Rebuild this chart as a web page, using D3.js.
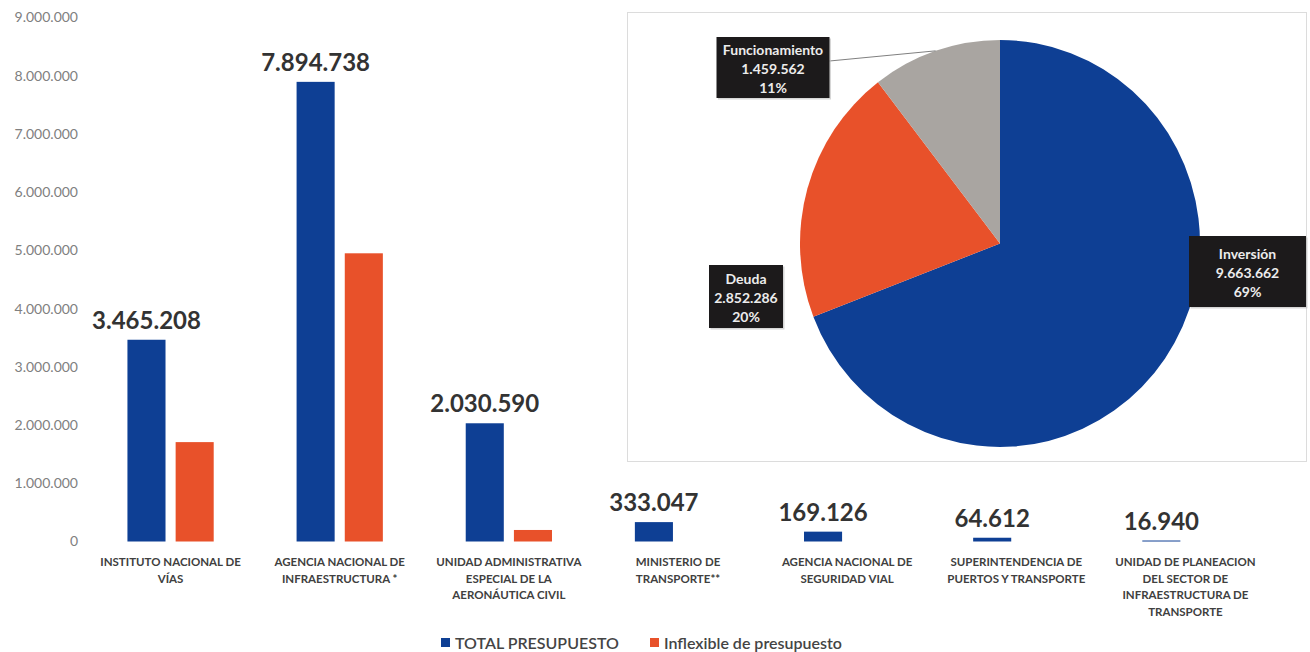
<!DOCTYPE html>
<html>
<head>
<meta charset="utf-8">
<script src="https://cdn.jsdelivr.net/npm/d3@7"></script>
<style>
  body { margin: 0; background: #fff; }
  svg { display: block; font-family: Lato, "Open Sans", sans-serif; }
</style>
</head>
<body>
<div id="chart"></div>
<script>
// bar chart data
const categories = [
  ["INSTITUTO NACIONAL DE", "VÍAS"],
  ["AGENCIA NACIONAL DE", "INFRAESTRUCTURA *"],
  ["UNIDAD ADMINISTRATIVA", "ESPECIAL DE LA", "AERONÁUTICA CIVIL"],
  ["MINISTERIO DE", "TRANSPORTE**"],
  ["AGENCIA NACIONAL DE", "SEGURIDAD VIAL"],
  ["SUPERINTENDENCIA DE", "PUERTOS Y TRANSPORTE"],
  ["UNIDAD DE PLANEACION", "DEL SECTOR DE", "INFRAESTRUCTURA DE", "TRANSPORTE"]
]
const totalPresupuesto = [3465208, 7894738, 2030590, 333047, 169126, 64612, 16940]
const inflexible = [1707000, 4950000, 198000, 0, 0, 0, 0]
const seriesNames = ["TOTAL PRESUPUESTO", "Inflexible de presupuesto"]
const yTicks = [0, 1000000, 2000000, 3000000, 4000000, 5000000, 6000000, 7000000, 8000000, 9000000]

// pie data
const pieNames = ["Inversión", "Deuda", "Funcionamiento"]
const pieValues = [9663662, 2852286, 1459562]
const piePercents = ["69%", "20%", "11%"]

const BLUE = "#0e3f94", ORANGE = "#e8512a", GREY = "#a9a5a1"

const W = 1310, H = 652
const svg = d3.select("#chart").append("svg")
  .attr("width", W).attr("height", H)

const loc = d3.formatLocale({ decimal: ",", thousands: ".", grouping: [3], currency: ["", ""] })
const fmt = loc.format(",d")

// ---- bars
const x0 = d3.scaleBand()
  .domain(d3.range(categories.length))
  .range([86, 1270])
const bw = x0.bandwidth()
const x1 = d3.scaleBand()
  .domain([0, 1])
  .range([bw * 0.245, bw * 0.755])
  .paddingInner(0.21)
const y = d3.scaleLinear()
  .domain([0, 9000000])
  .range([541.5, 17.5])

const yAxis = svg.append("g")
  .attr("transform", "translate(78,0)")
  .call(d3.axisLeft(y).tickValues(yTicks).tickFormat(d => fmt(d)).tickSize(0).tickPadding(0))
yAxis.select(".domain").remove()
yAxis.selectAll("text")
  .attr("fill", "#808080")
  .attr("font-size", "14px")
  .attr("font-family", "Lato, sans-serif")

const rows = categories.map((c, i) => ({ i, vals: [totalPresupuesto[i], inflexible[i]] }))

const groups = svg.selectAll("g.cat")
  .data(rows)
  .enter().append("g")
  .attr("class", "cat")
  .attr("transform", d => `translate(${x0(d.i)},0)`)

groups.selectAll("rect")
  .data(d => d.vals.map((v, k) => ({ k, v })))
  .enter().append("rect")
  .attr("x", d => x1(d.k))
  .attr("width", x1.bandwidth())
  .attr("y", d => y(d.v))
  .attr("height", d => y(0) - y(d.v))
  .attr("fill", d => d.k === 0 ? BLUE : ORANGE)

// value labels above the blue bars
groups.append("text")
  .attr("x", x1(0) + x1.bandwidth() / 2)
  .attr("y", d => y(d.vals[0]) - 11)
  .attr("text-anchor", "middle")
  .attr("font-size", "24px")
  .attr("font-weight", "bold")
  .attr("fill", "#333")
  .text(d => fmt(d.vals[0]))

// category labels
groups.append("text")
  .attr("text-anchor", "middle")
  .attr("font-size", "11.5px")
  .attr("font-weight", "bold")
  .attr("fill", "#404040")
  .selectAll("tspan")
  .data(d => categories[d.i])
  .enter().append("tspan")
  .attr("x", bw / 2)
  .attr("y", (d, j) => 566 + j * 16.5)
  .text(d => d)

// legend
const legendItems = [
  { name: seriesNames[0], color: BLUE, x: 441 },
  { name: seriesNames[1], color: ORANGE, x: 650 }
]
const lg = svg.selectAll("g.legend")
  .data(legendItems)
  .enter().append("g")
  .attr("class", "legend")
  .attr("transform", d => `translate(${d.x},638)`)
lg.append("rect").attr("width", 9).attr("height", 9).attr("fill", d => d.color)
lg.append("text")
  .attr("x", 14).attr("y", 11)
  .attr("font-size", "16px")
  .attr("font-weight", 600)
  .attr("fill", "#444")
  .text(d => d.name)

// ---- pie
svg.append("rect")
  .attr("x", 627.5).attr("y", 12.5)
  .attr("width", 679).attr("height", 449)
  .attr("fill", "none")
  .attr("stroke", "#dcdcdc")

const cx = 1000, cy = 243.5, R = 200, sy = 1.0175
const pie = d3.pie().sort(null).value(d => d)
const arcs = pie(pieValues)
const arc = d3.arc().innerRadius(0).outerRadius(R)
const edge = d3.arc().innerRadius(R).outerRadius(R)

const pg = svg.append("g")
  .attr("transform", `translate(${cx},${cy}) scale(1,${sy})`)
pg.selectAll("path")
  .data(arcs)
  .enter().append("path")
  .attr("d", arc)
  .attr("fill", (d, i) => [BLUE, ORANGE, GREY][i])

// label boxes (center x, center y, width, height)
const boxes = [
  { cx: 1247.5, cy: 271.5, w: 117, h: 71 },
  { cx: 746, cy: 296.5, w: 74, h: 63 },
  { cx: 773, cy: 67.5, w: 113, h: 61 }
]

// leader line for Funcionamiento
const p = edge.centroid(arcs[2])
svg.append("line")
  .attr("x1", boxes[2].cx + boxes[2].w / 2).attr("y1", 61)
  .attr("x2", cx + p[0]).attr("y2", cy + p[1] * sy)
  .attr("stroke", "#808080").attr("stroke-width", 1)

const lb = svg.selectAll("g.plabel")
  .data(boxes)
  .enter().append("g")
  .attr("class", "plabel")
  .attr("transform", d => `translate(${d.cx},${d.cy})`)
lb.append("rect")
  .attr("x", d => -d.w / 2 + 1.5).attr("y", d => -d.h / 2 + 1.5)
  .attr("width", d => d.w).attr("height", d => d.h)
  .attr("fill", "#bbb").attr("opacity", 0.6)
lb.append("rect")
  .attr("x", d => -d.w / 2).attr("y", d => -d.h / 2)
  .attr("width", d => d.w).attr("height", d => d.h)
  .attr("fill", "#1c1a1b")
lb.append("text")
  .attr("text-anchor", "middle")
  .attr("font-size", "14px")
  .attr("font-weight", "bold")
  .attr("fill", "#ececec")
  .selectAll("tspan")
  .data((d, i) => [pieNames[i], fmt(pieValues[i]), piePercents[i]])
  .enter().append("tspan")
  .attr("x", 0)
  .attr("y", (d, j) => -13 + j * 19)
  .text(d => d)
</script>
</body>
</html>
